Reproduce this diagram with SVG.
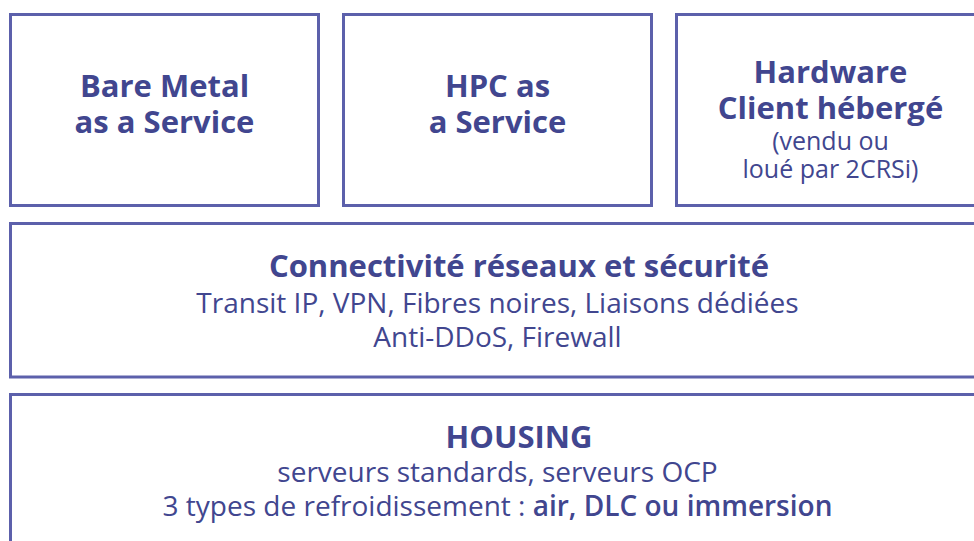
<svg xmlns="http://www.w3.org/2000/svg" width="974" height="541" viewBox="0 0 974 541">
  <style>
    .box { fill: #ffffff; stroke: #5c60ab; stroke-width: 3; }
    text { font-family: "Open Sans", "Noto Sans", "Liberation Sans", sans-serif; fill: #41468f; text-anchor: middle; }
    .title { font-size: 31px; font-weight: 700; }
    .body { font-size: 28px; font-weight: 400; }
    .small { font-size: 25px; font-weight: 400; }
    .em { font-weight: 600; }
  </style>
  <rect width="974" height="541" fill="#ffffff"/>

  <!-- service offerings -->
  <g id="bare-metal">
    <rect class="box" x="10.5" y="14.5" width="308" height="191"/>
    <text class="title" x="164.5" y="97">Bare Metal</text>
    <text class="title" x="164.5" y="133">as a Service</text>
  </g>
  <g id="hpc">
    <rect class="box" x="343.5" y="14.5" width="308" height="191"/>
    <text class="title" x="497.5" y="97">HPC as</text>
    <text class="title" x="497.5" y="133">a Service</text>
  </g>
  <g id="hardware-client">
    <rect class="box" x="676.5" y="14.5" width="308" height="191"/>
    <text class="title" x="830.5" y="83">Hardware</text>
    <text class="title" x="830.5" y="119">Client hébergé</text>
    <text class="small" x="830.5" y="150">(vendu ou</text>
    <text class="small" x="830.5" y="178">loué par 2CRSi)</text>
  </g>

  <!-- network layer -->
  <g id="connectivite">
    <rect class="box" x="10.5" y="223.5" width="974" height="153.5"/>
    <text class="title" x="519" y="277">Connectivité réseaux et sécurité</text>
    <text class="body" x="497.5" y="313">Transit IP, VPN, Fibres noires, Liaisons dédiées</text>
    <text class="body" x="497.5" y="347">Anti-DDoS, Firewall</text>
  </g>

  <!-- housing layer -->
  <g id="housing">
    <rect class="box" x="10.5" y="394.5" width="974" height="160"/>
    <text class="title" x="519" y="448">HOUSING</text>
    <text class="body" x="497.5" y="482">serveurs standards, serveurs OCP</text>
    <text class="body" x="497.5" y="516">3 types de refroidissement : <tspan class="em">air, DLC ou immersion</tspan></text>
  </g>

  <g id="connectors"/>
</svg>
